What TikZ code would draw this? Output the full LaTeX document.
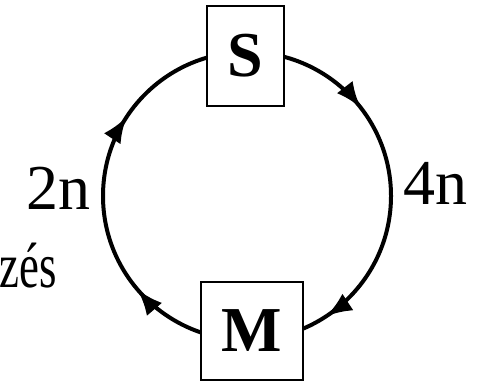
\documentclass[tikz,border=0pt]{standalone}
\usepackage{fontspec}
\setmainfont{Liberation Serif}
\usepackage{tikz}
\usetikzlibrary{arrows.meta,decorations.markings,backgrounds}

\begin{document}
\begin{tikzpicture}[x=0.5pt,y=0.5pt,
  box/.style={draw,line width=1pt,fill=white,inner sep=0pt,font=\fontsize{32}{36}\selectfont\bfseries},
  lbl/.style={anchor=base,inner sep=0pt,font=\fontsize{32}{36}\selectfont},
  tip/.style={decorate,decoration={markings,mark=at position #1 with {\arrow{Latex[length=13pt,width=10pt]}}}},
  flow/.style={line width=2pt}]
\useasboundingbox (0,0) rectangle (480,383);
\coordinate (o) at (247,187);
\node[box,minimum width=38.5pt,minimum height=50pt] (S) at (245.5,327) {S};
\node[box,minimum width=51pt,minimum height=49pt] (M) at (252,52) {M};
\node[lbl] (twon) at (58,173) {2n};
\node[lbl] (fourn) at (435,178) {4n};
\node[lbl,anchor=base east] (zes) at (57,95) {\scalebox{0.7}[1]{zés}};
\begin{scope}[on background layer]
% S -> M, right half
\draw[flow,postaction={tip=0.29},postaction={tip=0.815}]
  ([shift={(90:72pt)}]o) arc[start angle=90,end angle=-90,radius=72pt];
% M -> S, left half
\draw[flow,postaction={tip=0.275},postaction={tip=0.685}]
  ([shift={(-90:72pt)}]o) arc[start angle=-90,end angle=-270,radius=72pt];
\end{scope}
\end{tikzpicture}
\end{document}
